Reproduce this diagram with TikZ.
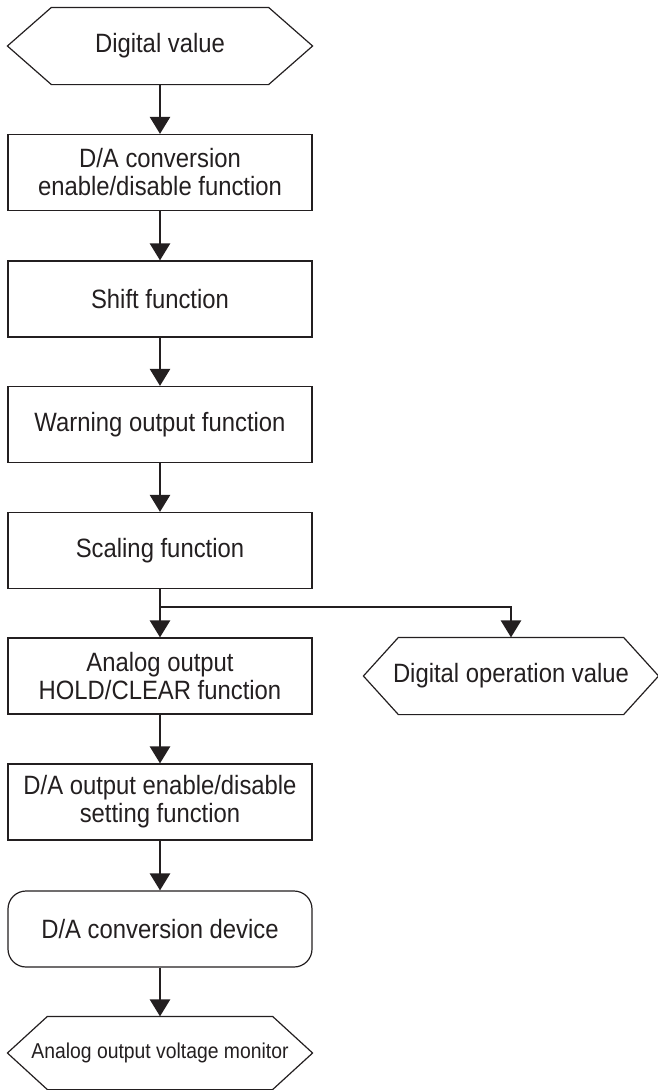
\documentclass[tikz,border=0pt]{standalone}
\usepackage{fontspec}
\setmainfont{Liberation Sans}[FakeStretch=0.9]
\usetikzlibrary{arrows.meta}
\definecolor{ink}{HTML}{231F20}

\begin{document}
\begin{tikzpicture}[x=1pt, y=-1pt,
  box/.style={draw=ink, line width=1.2pt, align=center, text=ink, minimum width=304pt, minimum height=76pt, inner sep=0pt, font=\fontsize{26.5}{28}\selectfont},
  term/.style={box, rounded corners=18pt},
  hexa/.style={box, draw=none},
  frame/.style={draw=ink, line width=1.2pt},
  arr/.style={-{Triangle[length=17pt, width=20pt]}, line width=2.6pt, draw=ink}
]
\useasboundingbox (0,0) rectangle (658,1090);

\node[hexa] (digital) at (160,46) {Digital value};
\node[box] (enable) at (160,172.5) {D/A conversion\\enable/disable function};
\node[box] (shift) at (160,299) {Shift function};
\node[box] (warning) at (160,424.5) {Warning output function};
\node[box] (scaling) at (160,550.5) {Scaling function};
\node[box] (hold) at (160,676) {Analog output\\HOLD/CLEAR function};
\node[hexa, minimum width=294pt] (operation) at (511,676) {Digital operation value};
\node[box] (outenable) at (160,802) {D/A output enable/disable\\setting function};
\node[term] (device) at (160,929) {D/A conversion device};
\node[hexa, minimum height=72pt, font=\fontsize{21.5}{24}\selectfont] (monitor) at (160,1053) {Analog output voltage monitor};
\coordinate (split) at (160,607);

% hexagon outlines
\draw[frame] (digital.west) -- ([xshift=44pt]digital.north west) -- ([xshift=-44pt]digital.north east) -- (digital.east) -- ([xshift=-44pt]digital.south east) -- ([xshift=44pt]digital.south west) -- cycle;
\draw[frame] (operation.west) -- ([xshift=35pt]operation.north west) -- ([xshift=-35pt]operation.north east) -- (operation.east) -- ([xshift=-35pt]operation.south east) -- ([xshift=35pt]operation.south west) -- cycle;
\draw[frame] (monitor.west) -- ([xshift=40pt]monitor.north west) -- ([xshift=-40pt]monitor.north east) -- (monitor.east) -- ([xshift=-40pt]monitor.south east) -- ([xshift=40pt]monitor.south west) -- cycle;

\draw[arr] (digital) -- (enable);
\draw[arr] (enable) -- (shift);
\draw[arr] (shift) -- (warning);
\draw[arr] (warning) -- (scaling);
\draw[arr] (scaling) -- (hold);
\draw[arr] (split) -| (operation);
\draw[arr] (hold) -- (outenable);
\draw[arr] (outenable) -- (device);
\draw[arr] (device) -- (monitor);
\end{tikzpicture}
\end{document}
